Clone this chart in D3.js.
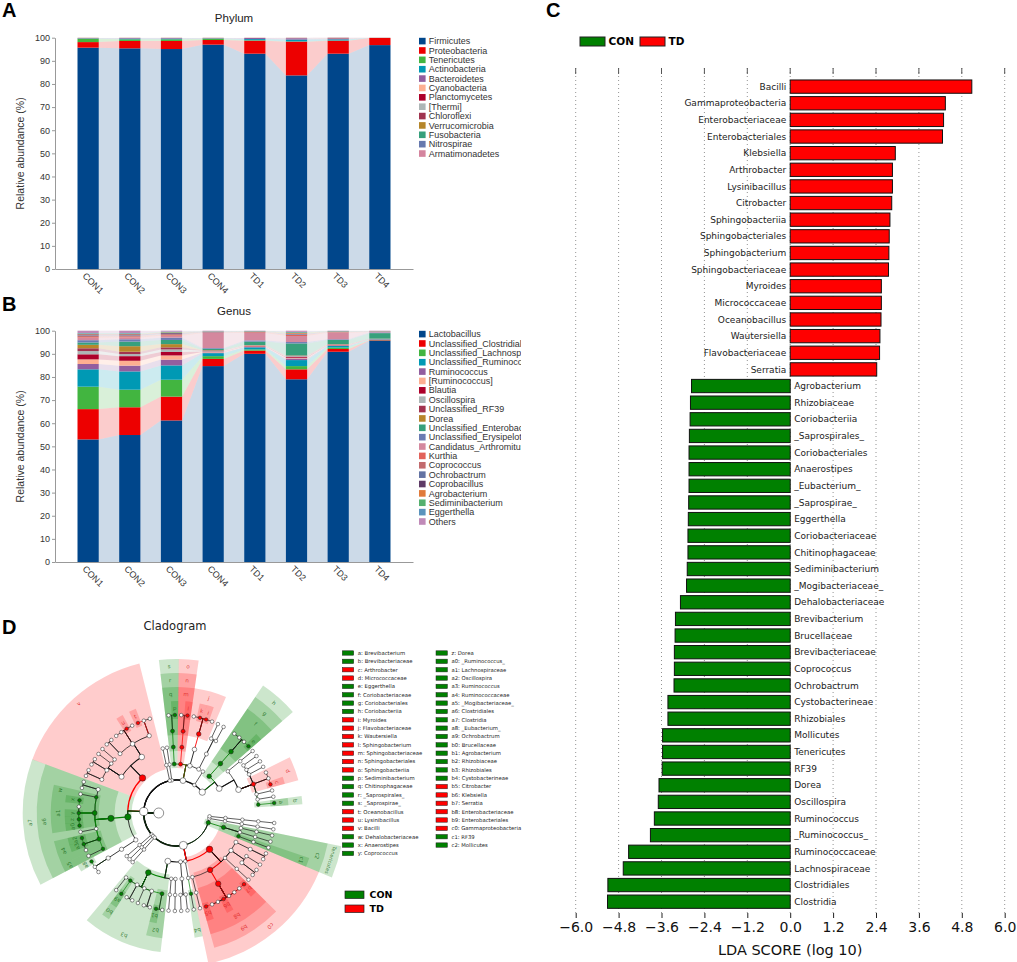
<!DOCTYPE html>
<html><head><meta charset="utf-8">
<script src="https://cdn.jsdelivr.net/npm/d3@7"></script>
<style>body{margin:0;background:#fff}svg{display:block}</style>
</head><body>
<svg id="fig" width="1017" height="962"></svg>
<script>
// ---------------- DATA ----------------
const samples = ["CON1","CON2","CON3","CON4","TD1","TD2","TD3","TD4"];
const yTicks = [0,10,20,30,40,50,60,70,80,90,100];

const phyla = ["Firmicutes","Proteobacteria","Tenericutes","Actinobacteria","Bacteroidetes","Cyanobacteria","Planctomycetes","[Thermi]","Chloroflexi","Verrucomicrobia","Fusobacteria","Nitrospirae","Armatimonadetes"];
const phylumColors = ["#00468B","#ED0000","#42B540","#0099B4","#925E9F","#FDAF91","#AD002A","#ADB6B6","#A0344F","#B5862A","#36A07C","#6679AE","#D4849E"];
const phylumValues = [
  [95.7,95.4,95.1,97.0,93.1,83.7,93.1,96.8],
  [2.4,3.2,3.5,2.0,5.6,14.6,5.6,3.1],
  [1.5,0.7,0.7,0.6,0.2,0.1,0.1,0.02],
  [0.1,0.3,0.3,0.1,0.5,0.8,0.5,0.02],
  [0.2,0.3,0.3,0.2,0.5,0.6,0.3,0.02],
  [0.05,0.05,0.05,0.05,0.05,0.1,0.05,0.01],
  [0.01,0.01,0.01,0.01,0.01,0.02,0.01,0.01],
  [0.01,0.01,0.01,0.01,0.01,0.02,0.01,0.01],
  [0.01,0.01,0.01,0.01,0.01,0.02,0.3,0.01],
  [0.01,0.01,0.01,0.01,0.01,0.01,0.01,0.01],
  [0.01,0.01,0.01,0.01,0.01,0.01,0.01,0.01],
  [0.01,0.01,0.01,0.01,0.01,0.01,0.01,0.01],
  [0.01,0.01,0.01,0.01,0.01,0.01,0.01,0.01]
];

const genera = ["Lactobacillus","Unclassified_Clostridiales","Unclassified_Lachnospiraceae","Unclassified_Ruminococcaceae","Ruminococcus","[Ruminococcus]","Blautia","Oscillospira","Unclassified_RF39","Dorea","Unclassified_Enterobacteriaceae","Unclassified_Erysipelotrichaceae","Candidatus_Arthromitus","Kurthia","Coprococcus","Ochrobactrum","Coprobacillus","Agrobacterium","Sediminibacterium","Eggerthella","Others"];
const genusColors = ["#00468B","#ED0000","#42B540","#0099B4","#925E9F","#FDAF91","#AD002A","#ADB6B6","#A2344F","#B8862B","#37A07C","#6B7BB3","#D4889E","#E2625A","#C26B6E","#6373A3","#5E3A66","#E07A3A","#55B06E","#5A93BC","#C08AB8"];
const genusValues = [
  [53.0,54.9,61.2,84.7,90.0,79.0,90.9,95.7],
  [13.1,12.0,10.3,3.1,1.4,4.3,1.2,0.2],
  [9.7,7.6,7.3,1.2,0.5,1.4,0.6,0.1],
  [7.5,7.9,6.2,1.3,0.9,2.6,0.7,0.2],
  [2.3,2.5,2.5,0.3,0.2,0.7,0.2,0.1],
  [2.0,2.1,1.8,0.2,0.2,0.3,0.1,0.05],
  [2.2,2.0,1.5,0.2,0.2,0.4,0.2,0.05],
  [1.4,0.9,1.1,0.3,0.2,0.3,0.1,0.05],
  [1.2,1.0,0.9,0.2,0.1,0.2,0.1,0.05],
  [1.5,2.4,1.4,0.1,0.1,0.1,0.1,0.05],
  [1.0,2.0,1.8,0.6,1.5,5.2,1.8,2.4],
  [1.0,1.0,1.0,0.3,0.5,0.6,0.3,0.3],
  [1.1,0.8,0.8,6.5,3.2,2.6,2.8,0.2],
  [0.3,0.3,0.3,0.2,0.3,0.5,0.2,0.1],
  [0.6,0.5,0.4,0.1,0.1,0.1,0.1,0.05],
  [0.2,0.2,0.2,0.1,0.1,0.3,0.1,0.05],
  [0.3,0.3,0.3,0.1,0.1,0.1,0.1,0.05],
  [0.2,0.2,0.2,0.1,0.1,0.3,0.1,0.05],
  [0.2,0.2,0.2,0.1,0.1,0.3,0.1,0.05],
  [0.2,0.2,0.2,0.1,0.1,0.2,0.1,0.05],
  [1.0,1.0,0.4,0.2,0.2,0.5,0.1,0.15]
];

const ldaNames = ["Bacilli","Gammaproteobacteria","Enterobacteriaceae","Enterobacteriales","Klebsiella","Arthrobacter","Lysinibacillus","Citrobacter","Sphingobacteriia","Sphingobacteriales","Sphingobacterium","Sphingobacteriaceae","Myroides","Micrococcaceae","Oceanobacillus","Wautersiella","Flavobacteriaceae","Serratia",
"Agrobacterium","Rhizobiaceae","Coriobacteriia","_Saprospirales_","Coriobacteriales","Anaerostipes","_Eubacterium_","_Saprospirae_","Eggerthella","Coriobacteriaceae","Chitinophagaceae","Sediminibacterium","_Mogibacteriaceae_","Dehalobacteriaceae","Brevibacterium","Brucellaceae","Brevibacteriaceae","Coprococcus","Ochrobactrum","Cystobacterineae","Rhizobiales","Mollicutes","Tenericutes","RF39","Dorea","Oscillospira","Ruminococcus","_Ruminococcus_","Ruminococcaceae","Lachnospiraceae","Clostridiales","Clostridia"];
const ldaValues = [5.08,4.34,4.29,4.26,2.94,2.86,2.86,2.84,2.79,2.77,2.76,2.75,2.55,2.55,2.54,2.51,2.50,2.42,
-2.76,-2.79,-2.80,-2.82,-2.83,-2.83,-2.83,-2.84,-2.85,-2.86,-2.86,-2.88,-2.90,-3.07,-3.21,-3.22,-3.24,-3.24,-3.25,-3.42,-3.42,-3.57,-3.57,-3.58,-3.67,-3.69,-3.80,-3.91,-4.52,-4.67,-5.10,-5.11];
const ldaTicks = [-6.0,-4.8,-3.6,-2.4,-1.2,0.0,1.2,2.4,3.6,4.8,6.0];
const groups = ["CON","TD"];
const groupColors = ["#008000","#FF0000"];

const cladeLetters = ["a","b","c","d","e","f","g","h","i","j","k","l","m","n","o","p","q","r","s","t","u","v","w","x","y","z","a0","a1","a2","a3","a4","a5","a6","a7","a8","a9","b0","b1","b2","b3","b4","b5","b6","b7","b8","b9","c0","c1","c2"];
const cladeNames = ["Brevibacterium","Brevibacteriaceae","Arthrobacter","Micrococcaceae","Eggerthella","Coriobacteriaceae","Coriobacteriales","Coriobacteriia","Myroides","Flavobacteriaceae","Wautersiella","Sphingobacterium","Sphingobacteriaceae","Sphingobacteriales","Sphingobacteriia","Sediminibacterium","Chitinophagaceae","_Saprospirales_","_Saprospirae_","Oceanobacillus","Lysinibacillus","Bacilli","Dehalobacteriaceae","Anaerostipes","Coprococcus","Dorea","_Ruminococcus_","Lachnospiraceae","Oscillospira","Ruminococcus","Ruminococcaceae","_Mogibacteriaceae_","Clostridiales","Clostridia","_Eubacterium_","Ochrobactrum","Brucellaceae","Agrobacterium","Rhizobiaceae","Rhizobiales","Cystobacterineae","Citrobacter","Klebsiella","Serratia","Enterobacteriaceae","Enterobacteriales","Gammaproteobacteria","RF39","Mollicutes"];
const cladeGroups = ["CON","CON","TD","TD","CON","CON","CON","CON","TD","TD","TD","TD","TD","TD","TD","CON","CON","CON","CON","TD","TD","TD","CON","CON","CON","CON","CON","CON","CON","CON","CON","CON","CON","CON","CON","CON","CON","CON","CON","CON","CON","TD","TD","TD","TD","TD","TD","CON","CON"];
const namedClades = [["Tenericutes","CON"]];

// taxonomy tree for the cladogram (phylum > class > order > family > genus)
const cladeTree = ["Bacteria", [
 ["Actinobacteria", [
   ["Actinobacteria", [
     ["Actinomycetales", [
       ["Brevibacteriaceae", ["Brevibacterium"]],
       ["Corynebacteriaceae", ["Corynebacterium"]],
       ["Dermabacteraceae", ["Brachybacterium"]],
       ["Micrococcaceae", ["Arthrobacter","Micrococcus","Rothia"]],
       ["Microbacteriaceae", ["Microbacterium"]],
       ["Nocardioidaceae", ["Nocardioides"]],
       ["Propionibacteriaceae", ["Propionibacterium"]]]],
     ["Bifidobacteriales", [["Bifidobacteriaceae", ["Bifidobacterium"]]]]]],
   ["Coriobacteriia", [["Coriobacteriales", [["Coriobacteriaceae", ["Eggerthella","Adlercreutzia","Collinsella","Slackia"]]]]]]]],
 ["Armatimonadetes", ["Armatimonadia"]],
 ["Bacteroidetes", [
   ["Bacteroidia", [["Bacteroidales", [["Bacteroidaceae", ["Bacteroides"]], ["S24-7", ["u1"]]]]]],
   ["Flavobacteriia", [["Flavobacteriales", [["Flavobacteriaceae", ["Chryseobacterium","Myroides","Wautersiella","Flavobacterium"]]]]]],
   ["Sphingobacteriia", [["Sphingobacteriales", [["Sphingobacteriaceae", ["Sphingobacterium","Pedobacter"]]]]]],
   ["_Saprospirae_", [["_Saprospirales_", [["Chitinophagaceae", ["Sediminibacterium","Flavisolibacter"]]]]]]]],
 ["Chloroflexi", [["Anaerolineae", ["u2"]]]],
 ["Cyanobacteria", [["4C0d-2", ["YS2"]]]],
 ["Firmicutes", [
   ["Bacilli", [
     ["Bacillales", [
       ["Bacillaceae", ["Anoxybacillus","Bacillus","Oceanobacillus"]],
       ["Planococcaceae", ["Kurthia","Lysinibacillus","Planococcus","Sporosarcina"]],
       ["Staphylococcaceae", ["Jeotgalicoccus","Staphylococcus"]]]],
     ["Lactobacillales", [
       ["Aerococcaceae", ["Facklamia"]],
       ["Enterococcaceae", ["Enterococcus"]],
       ["Lactobacillaceae", ["Lactobacillus","Pediococcus"]],
       ["Streptococcaceae", ["Lactococcus","Streptococcus"]]]]]],
   ["Clostridia", [["Clostridiales", [
       ["Clostridiaceae", ["Candidatus Arthromitus","Clostridium"]],
       ["Dehalobacteriaceae", ["Dehalobacterium"]],
       ["Lachnospiraceae", ["Anaerostipes","Blautia","Coprococcus","Dorea","_Ruminococcus_"]],
       ["Peptostreptococcaceae", ["u3"]],
       ["Ruminococcaceae", ["Oscillospira","Ruminococcus","Faecalibacterium"]],
       ["_Mogibacteriaceae_", ["u4"]]]]]],
   ["Erysipelotrichi", [["Erysipelotrichales", [["Erysipelotrichaceae", ["_Eubacterium_","Coprobacillus","Allobaculum"]]]]]]]],
 ["Fusobacteria", [["Fusobacteriia", ["u5"]]]],
 ["Nitrospirae", [["Nitrospira", ["u6"]]]],
 ["Planctomycetes", [["Planctomycetia", ["u7"]]]],
 ["Proteobacteria", [
   ["Alphaproteobacteria", [
     ["Rhizobiales", [
       ["Bradyrhizobiaceae", ["Bradyrhizobium"]],
       ["Brucellaceae", ["Ochrobactrum"]],
       ["Hyphomicrobiaceae", ["Devosia","Pedomicrobium"]],
       ["Methylobacteriaceae", ["Methylobacterium"]],
       ["Phyllobacteriaceae", ["Mesorhizobium","Phyllobacterium"]],
       ["Rhizobiaceae", ["Agrobacterium","Rhizobium"]]]],
     ["Caulobacterales", [["Caulobacteraceae", ["Brevundimonas"]]]],
     ["Sphingomonadales", [["Sphingomonadaceae", ["Sphingomonas"]]]]]],
   ["Betaproteobacteria", [["Burkholderiales", [["Alcaligenaceae", ["Achromobacter"]], ["Comamonadaceae", ["Comamonas"]]]]]],
   ["Deltaproteobacteria", [["Myxococcales", [["Cystobacterineae", ["u8"]]]]]],
   ["Gammaproteobacteria", [
     ["Aeromonadales", [["Aeromonadaceae", ["Aeromonas"]]]],
     ["Enterobacteriales", [["Enterobacteriaceae", ["Citrobacter","Enterobacter","Escherichia","Klebsiella","Morganella","Proteus","Providencia","Serratia"]]]],
     ["Pasteurellales", [["Pasteurellaceae", ["Haemophilus"]]]],
     ["Pseudomonadales", [["Moraxellaceae", ["Acinetobacter","Psychrobacter"]], ["Pseudomonadaceae", ["Pseudomonas"]]]],
     ["Xanthomonadales", [["Xanthomonadaceae", ["Stenotrophomonas","Pseudoxanthomonas"]]]]]]]],
 ["Tenericutes", [["Mollicutes", [["RF39", [["u9", ["u10"]]]], ["Anaeroplasmatales", [["Anaeroplasmataceae", ["Anaeroplasma"]]]], ["Mycoplasmatales", [["Mycoplasmataceae", ["Mycoplasma"]]]]]]]],
 ["Thermi", [["Deinococci", [["Deinococcales", [["Deinococcaceae", ["Deinococcus"]]]]]]]],
 ["Verrucomicrobia", [["Verrucomicrobiae", [["Verrucomicrobiales", [["Verrucomicrobiaceae", ["Akkermansia"]]]]]]]]
]];

// ---------------- DRAW ----------------
const svg = d3.select("#fig");
const sans = "'Liberation Sans', Arial, sans-serif";
const dv = "'DejaVu Sans', sans-serif";
const gc = g => groupColors[groups.indexOf(g)];

svg.append("defs").append("clipPath").attr("id","leftclip")
  .append("rect").attr("x",0).attr("y",0).attr("width",521).attr("height",600);

function letter(t, x, y){
  svg.append("text").attr("x",x).attr("y",y).text(t)
    .style("font-family",sans).style("font-weight","bold").style("font-size","20px");
}

function stackPanel(opts){
  const {taxa, values, colors, top, bottom, title, titleY} = opts;
  const g = svg.append("g").attr("clip-path","url(#leftclip)");
  const x = d3.scaleBand().domain(samples).range([55,413]).paddingInner(0.49).paddingOuter(0.54);
  const y = d3.scaleLinear().domain([0,100]).range([bottom, top]).clamp(true);
  const rows = samples.map((s,i) => { const r = {sample:s}; taxa.forEach((t,k) => r[t] = values[k][i]); return r; });
  const series = d3.stack().keys(taxa)(rows);
  const bw = x.bandwidth();
  series.forEach((s,k) => {
    for (let i = 0; i < samples.length-1; i++) {
      const xa = x(samples[i]) + bw, xb = x(samples[i+1]);
      const pts = [[xa,y(s[i][1])],[xb,y(s[i+1][1])],[xb,y(s[i+1][0])],[xa,y(s[i][0])]];
      g.append("polygon").attr("points", pts.map(p=>p.join(",")).join(" "))
        .attr("fill", colors[k]).attr("fill-opacity",0.2);
    }
  });
  series.forEach((s,k) => {
    g.selectAll(null).data(s).enter().append("rect")
      .attr("x", d => x(d.data.sample)).attr("width", bw)
      .attr("y", d => y(d[1])).attr("height", d => Math.max(0, y(d[0]) - y(d[1])))
      .attr("fill", colors[k]);
  });
  const ya = g.append("g").attr("transform","translate(55,0)")
    .call(d3.axisLeft(y).tickValues(yTicks).tickSize(3).tickSizeOuter(0).tickPadding(2));
  ya.select(".domain").attr("stroke","#999");
  ya.selectAll(".tick line").attr("stroke","#999");
  ya.selectAll("text").attr("fill","#333").style("font-family",sans).style("font-size","9px");
  const xa = g.append("g").attr("transform",`translate(0,${bottom})`)
    .call(d3.axisBottom(x).tickSize(0).tickSizeOuter(0));
  xa.select(".domain").attr("stroke","#999");
  xa.selectAll("text").attr("fill","#333").style("font-family",sans).style("font-size","9px")
    .attr("transform","rotate(45)").attr("x",1).attr("y",7).attr("dy","0.3em").style("text-anchor","start");
  g.append("text").attr("transform",`translate(24,${(top+bottom)/2}) rotate(-90)`)
    .attr("text-anchor","middle").text("Relative abundance (%)")
    .style("font-family",sans).style("font-size","10.5px").attr("fill","#333");
  g.append("text").attr("x",234).attr("y",titleY).attr("text-anchor","middle").text(title)
    .style("font-family",sans).style("font-size","11.5px").attr("fill","#222");
  const lg = g.append("g");
  taxa.forEach((t,k) => {
    const yy = top + 3.4 + k*9.37;
    lg.append("rect").attr("x",419).attr("y",yy-3.3).attr("width",6.6).attr("height",6.6).attr("fill",colors[k]);
    lg.append("text").attr("x",428.7).attr("y",yy).attr("dy","0.35em").text(t)
      .style("font-family",sans).style("font-size","9px").attr("fill","#333");
  });
}

letter("A",2,17);
stackPanel({taxa:phyla, values:phylumValues, colors:phylumColors, top:37.7, bottom:269, title:"Phylum", titleY:22});
letter("B",2,311);
stackPanel({taxa:genera, values:genusValues, colors:genusColors, top:330.7, bottom:562, title:"Genus", titleY:315});

// ---------------- Panel C ----------------
letter("C",546,17);
const cg = svg.append("g");
const xC = d3.scaleLinear().domain([-6,6]).range([575.7,1004.7]);
const yC = d3.scaleBand().domain(ldaNames).range([78.3,910]).paddingInner(0.2).paddingOuter(0.1);
ldaTicks.forEach(t => {
  cg.append("line").attr("x1",xC(t)).attr("x2",xC(t)).attr("y1",68).attr("y2",913)
    .attr("stroke","#777").attr("stroke-width",0.8).attr("stroke-dasharray","1,3");
  cg.append("line").attr("x1",xC(t)).attr("x2",xC(t)).attr("y1",68).attr("y2",74)
    .attr("stroke","#555").attr("stroke-width",1);
});
cg.selectAll(null).data(ldaNames).enter().append("rect")
  .attr("x",(d,i) => xC(Math.min(0, ldaValues[i])))
  .attr("width",(d,i) => Math.abs(xC(ldaValues[i]) - xC(0)))
  .attr("y", d => yC(d)).attr("height", yC.bandwidth())
  .attr("fill",(d,i) => ldaValues[i] > 0 ? gc("TD") : gc("CON"))
  .attr("stroke","#111").attr("stroke-width",1);
cg.selectAll(null).data(ldaNames).enter().append("text")
  .attr("x",(d,i) => ldaValues[i] > 0 ? xC(0) - 4 : xC(0) + 4)
  .attr("y", d => yC(d) + yC.bandwidth()/2).attr("dy","0.35em")
  .attr("text-anchor",(d,i) => ldaValues[i] > 0 ? "end" : "start")
  .text(d => d).style("font-family",dv).style("font-size","9px").attr("fill","#222");
const xaC = cg.append("g").attr("transform","translate(0,913)")
  .call(d3.axisBottom(xC).tickValues(ldaTicks).tickFormat(d3.format(".1f")).tickSize(5).tickPadding(4));
xaC.select(".domain").remove();
xaC.selectAll(".tick line").attr("stroke","#222");
xaC.selectAll("text").style("font-family",dv).style("font-size","14px").attr("fill","#111");
cg.append("text").attr("x",xC(0)).attr("y",955).attr("text-anchor","middle").text("LDA SCORE (log 10)")
  .style("font-family",dv).style("font-size","14.5px").attr("fill","#111");
groups.forEach((gname,i) => {
  const x0 = 580 + i*60;
  cg.append("rect").attr("x",x0).attr("y",37).attr("width",25).attr("height",9)
    .attr("fill",groupColors[i]).attr("stroke","#222").attr("stroke-width",1);
  cg.append("text").attr("x",x0+28.5).attr("y",41.5).attr("dy","0.35em").text(gname)
    .style("font-family",dv).style("font-weight","bold").style("font-size","10.5px");
});

// ---------------- Panel D ----------------
letter("D",2,634);
svg.append("text").attr("x",175).attr("y",630).attr("text-anchor","middle").text("Cladogram")
  .style("font-family",dv).style("font-size","11.5px").attr("fill","#222");
const dg = svg.append("g");
const cx = 176.7, cy = 813;
const rAt = [18, 33, 49, 66, 82, 98];
const bandOuter = d => 112 + (5 - d) * 14;
const bio = new Map();
cladeNames.forEach((n,i) => bio.set(n, {label: cladeLetters[i], group: cladeGroups[i]}));
namedClades.forEach(([n,g]) => bio.set(n, {label: n, group: g}));

const root = d3.hierarchy(cladeTree, d => Array.isArray(d) ? d[1] : null);
root.count();
const span = 352;
d3.cluster().size([span,1]).separation(() => 1)(root);
const nLeaves = root.leaves().length;
const step = span / (nLeaves - 1);
root.each(n => {
  n.name = Array.isArray(n.data) ? n.data[0] : n.data;
  n.ang = n.depth === 0 ? 180 : 356 - n.x;
  n.r = rAt[n.depth];
  n.bio = n.depth > 0 ? bio.get(n.name) : undefined;
});
const rad = a => a * Math.PI / 180;
const polar = (r,a) => [cx + r*Math.cos(rad(a)), cy + r*Math.sin(rad(a))];

// wedges
const bioNodes = root.descendants().filter(n => n.bio).sort((a,b) => a.depth - b.depth);
const arcGen = d3.arc();
bioNodes.forEach(n => {
  const angs = n.leaves().map(l => l.ang);
  const a0 = d3.min(angs) - step/2, a1 = d3.max(angs) + step/2;
  dg.append("path").attr("transform",`translate(${cx},${cy})`)
    .attr("d", arcGen({innerRadius: n.r - 4, outerRadius: bandOuter(n.depth), startAngle: rad(a0+90), endAngle: rad(a1+90)}))
    .attr("fill", gc(n.bio.group)).attr("fill-opacity", 0.2);
});
// links
root.descendants().filter(n => n.parent).forEach(n => {
  const p = n.parent;
  const s = polar(p.r, p.ang), m = polar(n.r, p.ang), e = polar(n.r, n.ang);
  let d = `M${s[0]},${s[1]}L${m[0]},${m[1]}`;
  if (Math.abs(n.ang - p.ang) > 1e-6) {
    const large = Math.abs(n.ang - p.ang) > 180 ? 1 : 0;
    const sweep = n.ang > p.ang ? 1 : 0;
    d += `A${n.r},${n.r} 0 ${large} ${sweep} ${e[0]},${e[1]}`;
  }
  dg.append("path").attr("d", d).attr("fill","none")
    .attr("stroke", n.bio ? gc(n.bio.group) : "#111")
    .attr("stroke-width", 0.45 + 0.22*Math.sqrt(n.value));
});
// nodes
root.descendants().forEach(n => {
  const [x,y] = polar(n.r, n.ang);
  dg.append("circle").attr("cx",x).attr("cy",y)
    .attr("r", n.depth === 0 ? 5 : Math.min(4.5, 1.3 + 0.5*Math.sqrt(n.value)))
    .attr("fill", n.bio ? gc(n.bio.group) : "#fff")
    .attr("stroke", "#222").attr("stroke-width", 0.5);
});
// wedge labels
bioNodes.forEach(n => {
  const angs = n.leaves().map(l => l.ang);
  const am = (d3.min(angs) + d3.max(angs)) / 2;
  const [x,y] = polar(bandOuter(n.depth) - 7, am);
  dg.append("text").attr("transform",`translate(${x},${y}) rotate(${am+90})`)
    .attr("text-anchor","middle").attr("dy","0.35em").text(n.bio.label)
    .style("font-family",dv).style("font-size", n.bio.label.length > 2 ? "5px" : "5.5px")
    .attr("fill", n.bio.group === "CON" ? "#1c6e1c" : "#d22").attr("fill-opacity",0.85);
});
// legend D
cladeLetters.forEach((l,i) => {
  const col = i < 25 ? 0 : 1, row = i < 25 ? i : i - 25;
  const x0 = col ? 436 : 342.3, y0 = 653 + row*8.35;
  dg.append("rect").attr("x",x0).attr("y",y0-2.2).attr("width",11.4).attr("height",4.4)
    .attr("fill", gc(cladeGroups[i])).attr("stroke","#222").attr("stroke-width",0.5);
  dg.append("text").attr("x", x0+15.5).attr("y",y0).attr("dy","0.35em").text(`${l}: ${cladeNames[i]}`)
    .style("font-family",dv).style("font-size","5.3px").attr("fill","#222");
});
groups.forEach((gname,i) => {
  const y0 = 891 + i*14;
  dg.append("rect").attr("x",345).attr("y",y0).attr("width",19).attr("height",7.5)
    .attr("fill",groupColors[i]).attr("stroke","#222").attr("stroke-width",0.7);
  dg.append("text").attr("x",369.5).attr("y",y0+3.9).attr("dy","0.35em").text(gname)
    .style("font-family",dv).style("font-weight","bold").style("font-size","9.5px");
});
</script>
</body></html>
